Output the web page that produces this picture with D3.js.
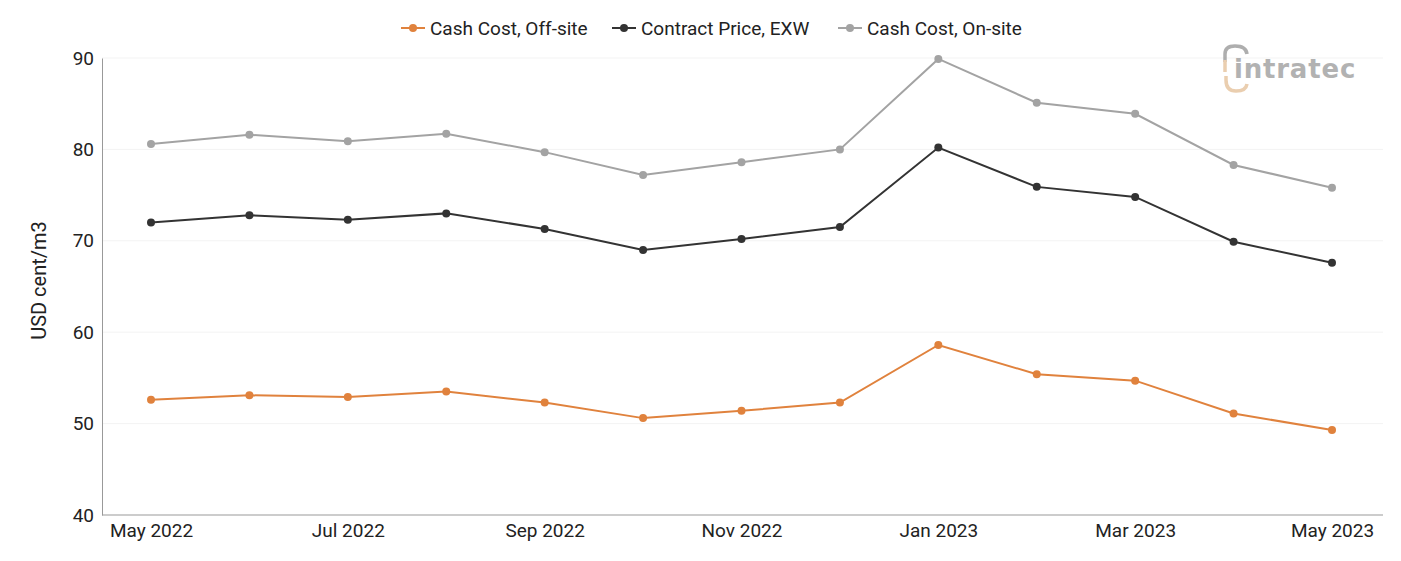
<!DOCTYPE html>
<html>
<head>
<meta charset="utf-8">
<script src="https://cdn.jsdelivr.net/npm/d3@7"></script>
<style>
  body { margin: 0; background: #fff; font-family: Roboto, sans-serif; }
  svg text { font-family: Roboto, sans-serif; }
</style>
</head>
<body>
<svg id="chart" width="1401" height="561"></svg>
<script>
const months = ['May 2022', 'Jun 2022', 'Jul 2022', 'Aug 2022', 'Sep 2022', 'Oct 2022', 'Nov 2022',
  'Dec 2022', 'Jan 2023', 'Feb 2023', 'Mar 2023', 'Apr 2023', 'May 2023']
const tickLabels = ['May 2022', 'Jul 2022', 'Sep 2022', 'Nov 2022', 'Jan 2023', 'Mar 2023', 'May 2023']
const yTicks = [40, 50, 60, 70, 80, 90]

const offSite = [52.6, 53.1, 52.9, 53.5, 52.3, 50.6, 51.4, 52.3, 58.6, 55.4, 54.7, 51.1, 49.3]
const contract = [72.0, 72.8, 72.3, 73.0, 71.3, 69.0, 70.2, 71.5, 80.2, 75.9, 74.8, 69.9, 67.6]
const onSite = [80.6, 81.6, 80.9, 81.7, 79.7, 77.2, 78.6, 80.0, 89.9, 85.1, 83.9, 78.3, 75.8]

const seriesNames = ['Cash Cost, Off-site', 'Contract Price, EXW', 'Cash Cost, On-site']
const seriesColors = ['#e0823d', '#333333', '#a3a3a3']

let series = [offSite, contract, onSite].map((v, i) => ({ name: seriesNames[i], color: seriesColors[i], values: v }))

let svg = d3.select('#chart')
let margin = { left: 102, right: 18, top: 58, bottom: 46 }
let width = 1401, height = 561

let x = d3.scalePoint()
  .domain(months)
  .range([151, 1332])

let y = d3.scaleLinear()
  .domain([40, 90])
  .range([height - margin.bottom, margin.top])

// grid
svg.append('g')
  .selectAll('line')
  .data(yTicks.slice(1))
  .enter().append('line')
    .attr('x1', margin.left)
    .attr('x2', width - margin.right)
    .attr('y1', d => y(d))
    .attr('y2', d => y(d))
    .style('stroke', '#f3f3f3')
    .style('stroke-width', 1)

// axes
let yAxis = svg.append('g')
  .attr('transform', `translate(${ margin.left },0)`)
  .call(d3.axisLeft(y).tickValues(yTicks).tickSize(0).tickPadding(8))
yAxis.select('.domain').style('stroke', '#999')
yAxis.selectAll('text').style('font-size', '19px').style('fill', '#222')

let xAxis = svg.append('g')
  .attr('transform', `translate(0,${ height - margin.bottom })`)
  .call(d3.axisBottom(x).tickValues(tickLabels).tickSize(0).tickPadding(9))
xAxis.select('.domain')
  .attr('d', `M${ margin.left },0H${ width - margin.right }`)
  .style('stroke', '#999')
xAxis.selectAll('text').style('font-size', '19px').style('fill', '#222')

svg.append('text')
  .attr('transform', `translate(46,${ y(65) - 6 }) rotate(-90)`)
  .attr('text-anchor', 'middle')
  .style('font-size', '20px')
  .style('fill', '#222')
  .text('USD cent/m3')

// lines
let line = d3.line()
  .x((d, i) => x(months[i]))
  .y(d => y(d))

let g = svg.selectAll('g.series')
  .data(series)
  .enter().append('g')
    .attr('class', 'series')

g.append('path')
  .attr('d', d => line(d.values))
  .style('fill', 'none')
  .style('stroke', d => d.color)
  .style('stroke-width', 2)

g.selectAll('circle')
  .data(d => d.values.map(v => ({ v, color: d.color })))
  .enter().append('circle')
    .attr('cx', (d, i) => x(months[i]))
    .attr('cy', d => y(d.v))
    .attr('r', 4)
    .style('fill', d => d.color)

// legend
let legendX = [401, 612, 838]
let legend = svg.selectAll('g.legend')
  .data(series)
  .enter().append('g')
    .attr('class', 'legend')
    .attr('transform', (d, i) => `translate(${ legendX[i] },28)`)

legend.append('line')
  .attr('x1', 0).attr('x2', 24)
  .style('stroke', d => d.color)
  .style('stroke-width', 2)
legend.append('circle')
  .attr('cx', 12).attr('r', 4)
  .style('fill', d => d.color)
legend.append('text')
  .attr('x', 29)
  .attr('dy', '0.35em')
  .style('font-size', '19px')
  .style('fill', '#222')
  .text(d => d.name)

// watermark
let logo = svg.append('g')
  .attr('transform', 'translate(1222,44)')
  .style('opacity', 0.8)
logo.append('path')
  .attr('d', 'M3,18 V10 Q3,2 13,2 Q24,2 25,10')
  .style('fill', 'none').style('stroke', '#9a9a9a').style('stroke-width', 3.5)
logo.append('path')
  .attr('d', 'M3,16 V28')
  .style('fill', 'none').style('stroke', '#e6c29c').style('stroke-width', 3.5)
logo.append('path')
  .attr('d', 'M4,32 V36 Q4,47 14,47 Q24,47 25,40')
  .style('fill', 'none').style('stroke', '#e6c29c').style('stroke-width', 3.5)
logo.append('text')
  .attr('x', 12)
  .attr('y', 34)
  .style('font-family', '"DejaVu Sans", sans-serif')
  .style('font-weight', 'bold')
  .style('font-size', '26px')
  .style('letter-spacing', '0.8px')
  .style('fill', '#a0a0a0')
  .text('intratec')
</script>
</body>
</html>
